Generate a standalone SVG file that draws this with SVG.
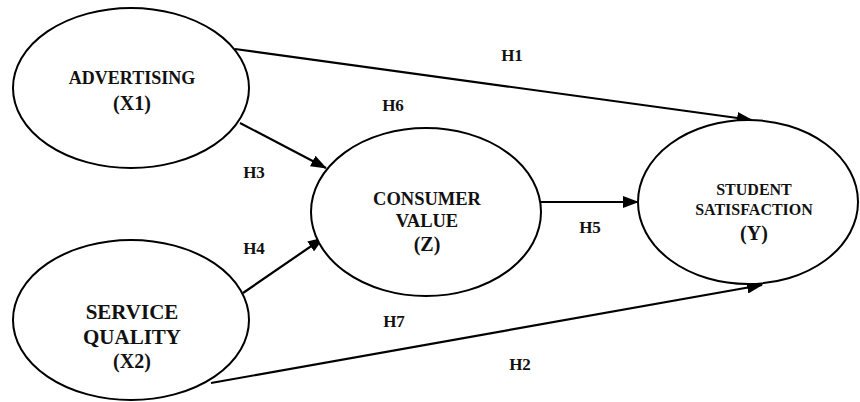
<svg xmlns="http://www.w3.org/2000/svg" width="860" height="402" viewBox="0 0 860 402">
<style>
.node{fill:#fff;stroke:#000;stroke-width:2}
.t{font-family:"Liberation Serif","Times New Roman",serif;font-weight:bold;fill:#111;text-anchor:middle}
.lbl{font-family:"Liberation Serif","Times New Roman",serif;font-weight:bold;font-size:17px;fill:#111;text-anchor:middle}
.edge{stroke:#000;stroke-width:2.2;fill:none;marker-end:url(#ah)}
</style>
<defs>
<marker id="ah" markerUnits="userSpaceOnUse" markerWidth="16" markerHeight="12" refX="15" refY="6" orient="auto">
<path d="M0,0 L16,6 L0,12 z" fill="#000"/>
</marker>
</defs>
<rect width="860" height="402" fill="#fff"/>
<g id="connectors">
<line class="edge" x1="235" y1="49" x2="752" y2="120"/>
<line class="edge" x1="240" y1="123" x2="326" y2="168"/>
<line class="edge" x1="243" y1="293" x2="323" y2="238"/>
<line class="edge" x1="541" y1="202" x2="638" y2="202"/>
<line class="edge" x1="211" y1="383" x2="762" y2="285"/>
</g>
<g id="labels">
<text class="lbl" x="512" y="61">H1</text>
<text class="lbl" x="393" y="111">H6</text>
<text class="lbl" x="254" y="178">H3</text>
<text class="lbl" x="254" y="254">H4</text>
<text class="lbl" x="590" y="233">H5</text>
<text class="lbl" x="394" y="327">H7</text>
<text class="lbl" x="520" y="370">H2</text>
</g>
<g id="x1">
<ellipse class="node" cx="131" cy="88" rx="118" ry="80"/>
<text class="t" x="132" y="84" font-size="18">ADVERTISING</text>
<text class="t" x="132" y="110" font-size="20">(X1)</text>
</g>
<g id="x2">
<ellipse class="node" cx="131" cy="320" rx="118" ry="80"/>
<text class="t" x="132" y="319" font-size="21">SERVICE</text>
<text class="t" x="132" y="344" font-size="21">QUALITY</text>
<text class="t" x="132" y="368" font-size="20">(X2)</text>
</g>
<g id="z">
<ellipse class="node" cx="426" cy="212" rx="115" ry="84"/>
<text class="t" x="427" y="205" font-size="18.5">CONSUMER</text>
<text class="t" x="427" y="227" font-size="18.5">VALUE</text>
<text class="t" x="427" y="251" font-size="20">(Z)</text>
</g>
<g id="y">
<ellipse class="node" cx="748" cy="202" rx="110" ry="82"/>
<text class="t" x="754" y="195" font-size="16">STUDENT</text>
<text class="t" x="754" y="215" font-size="16">SATISFACTION</text>
<text class="t" x="754" y="240" font-size="20">(Y)</text>
</g>
</svg>
